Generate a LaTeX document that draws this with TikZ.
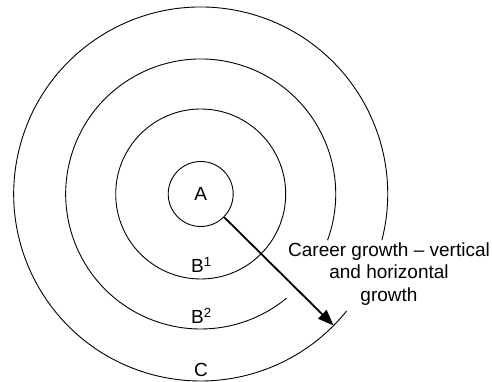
\documentclass[tikz,border=0pt]{standalone}
\usepackage{fontspec}
\setmainfont{Liberation Sans}
\usetikzlibrary{arrows.meta}

\begin{document}
\begin{tikzpicture}[x=1pt, y=1pt,
    ring/.style={draw=black, line width=0.9pt},
    lbl/.style={font=\fontsize{19}{22.5}\selectfont, inner sep=0pt},
    arr/.style={-{Triangle[length=16pt, width=12pt]}, line width=1.8pt}
  ]
  \useasboundingbox (0,0) rectangle (492,382);
  \coordinate (o) at (200.7,188);

  \node[lbl, ring, circle, minimum size=65pt] (a) at (o) {A};
  \draw[ring] (o) circle[radius=85];
  \foreach \r/\s/\e in {135/-20/309.5, 187/-14.3/321.3}{
    \draw[ring] ([shift={(\s:\r)}]o) arc[start angle=\s, end angle=\e, radius=\r];
  }

  \node[lbl, anchor=base] (bone) at (201.5,109) {B\textsuperscript{1}};
  \node[lbl, anchor=base] (btwo) at (201.5,58)  {B\textsuperscript{2}};
  \node[lbl, anchor=base] (c)    at (201,5)     {C};

  \coordinate (tip) at ([shift={(-44.7:187)}]o);
  \draw[arr] (a) -- (tip);

  \node[lbl, align=center] (note) at (389,108)
        {Career growth -- vertical\\and horizontal\\growth};
\end{tikzpicture}
\end{document}
